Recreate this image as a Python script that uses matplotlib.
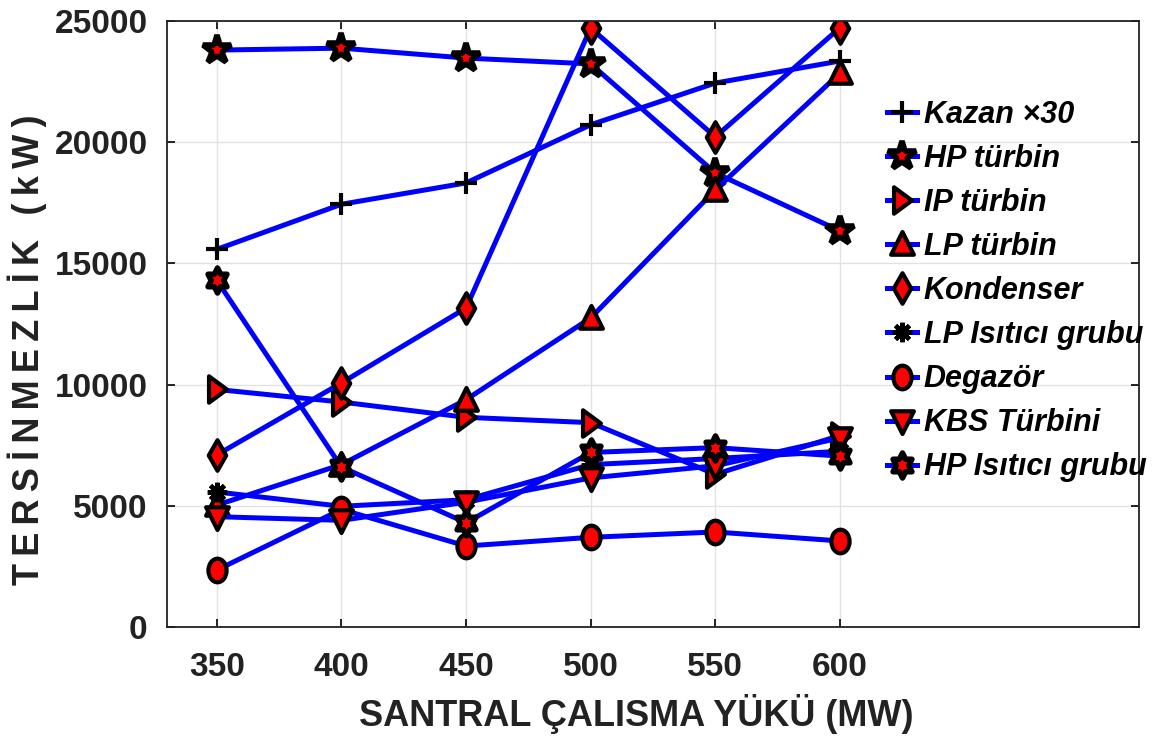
import numpy as np
import matplotlib
matplotlib.use("Agg")
import matplotlib.pyplot as plt
from matplotlib.path import Path
from matplotlib import font_manager

# veri
yuk = [350, 400, 450, 500, 550, 600]
kazan_x30 = [15580, 17440, 18320, 20720, 22440, 23350]
hp_turbin = [23800, 23880, 23470, 23230, 18730, 16340]
ip_turbin = [9800, 9280, 8650, 8430, 6300, 7900]
lp_turbin = [5030, 6700, 9380, 12750, 18030, 22850]
kondenser = [7100, 10070, 13160, 24710, 20220, 24720]
lp_isitici = [5570, 4980, 5250, 6700, 6950, 7250]
degazor = [2350, 4850, 3340, 3700, 3920, 3550]
kbs_turbini = [4550, 4400, 5150, 6150, 6650, 7800]
hp_isitici = [14300, 6600, 4300, 7200, 7400, 7050]

etiketler = ["Kazan \u00d730", "HP t\u00fcrbin", "IP t\u00fcrbin", "LP t\u00fcrbin",
             "Kondenser", "LP Is\u0131t\u0131c\u0131 grubu", "Degaz\u00f6r",
             "KBS T\u00fcrbini", "HP Is\u0131t\u0131c\u0131 grubu"]


def font_var(ad):
    try:
        font_manager.findfont(font_manager.FontProperties(family=ad), fallback_to_default=False)
        return True
    except Exception:
        return False


dar = "Liberation Sans Narrow" if font_var("Liberation Sans Narrow") else "Liberation Sans"
plt.rcParams['font.family'] = ['Liberation Sans', 'DejaVu Sans']


# markerler (biraz dikey uzatilmis)
def yol(noktalar):
    v = list(noktalar) + [noktalar[0]]
    c = [Path.MOVETO] + [Path.LINETO] * (len(noktalar) - 1) + [Path.CLOSEPOLY]
    return Path(v, c)


daire = Path(Path.unit_circle().vertices * [1, 1.3], Path.unit_circle().codes)
elmas = yol([(0, 1.75), (1, 0), (0, -1.75), (-1, 0)])
ucgen_yukari = yol([(0, 1.1), (-1, -0.9), (1, -0.9)])
ucgen_asagi = yol([(0, -1.1), (-1, 0.9), (1, 0.9)])
ucgen_sag = yol([(1, 0), (-0.9, -1.4), (-0.9, 1.4)])
hex_yildiz = Path(Path.unit_regular_star(6, 0.577).vertices * [1, 1.15],
                  Path.unit_regular_star(6, 0.577).codes)

# (veri, marker, boyut, kenar kalinligi)
seriler = [
    (kazan_x30, '+', 16, 3.0),
    (hp_turbin, '*', 21, 4.0),
    (ip_turbin, ucgen_sag, 19, 3.0),
    (lp_turbin, ucgen_yukari, 18, 3.0),
    (kondenser, elmas, 22, 3.0),
    (lp_isitici, (8, 2, 0), 14, 3.2),
    (degazor, daire, 17, 3.0),
    (kbs_turbini, ucgen_asagi, 18, 3.0),
    (hp_isitici, hex_yildiz, 18, 4.0),
]

fig = plt.figure(figsize=(11.57, 7.49), dpi=100)
ax = fig.add_axes([167 / 1157, 1 - 627 / 749, (1139 - 167) / 1157, (627 - 21) / 749])

for (deger, mk, ms, mew), et in zip(seriler, etiketler):
    ax.plot(yuk, deger, color='#0000FF', lw=3.6, marker=mk, markersize=ms,
            markerfacecolor='#FF0000', markeredgecolor='black', markeredgewidth=mew,
            label=et)

ax.set_xlim(330, 720)
ax.set_ylim(0, 25000)
ax.set_xticks(yuk)
ax.set_yticks([0, 5000, 10000, 15000, 20000, 25000])
ax.grid(True, color='#e2e2e2', lw=1)
ax.set_axisbelow(True)
ax.tick_params(direction='in', length=6, width=1.2, top=True, right=True)
ax.tick_params(axis='x', pad=18)
ax.tick_params(axis='y', pad=14)
for s in ax.spines.values():
    s.set_linewidth(1.3)
    s.set_color('#222222')
for t in ax.get_xticklabels() + ax.get_yticklabels():
    t.set_fontfamily([dar, 'DejaVu Sans'])
    t.set_fontweight('bold')
    t.set_fontsize(26 if dar != "Liberation Sans" else 24)
    t.set_color('#222222')

ax.set_xlabel("SANTRAL \u00c7ALISMA Y\u00dcK\u00dc (MW)", fontsize=26, fontweight='bold',
              color='#222222', va='center')
ax.xaxis.set_label_coords(0.4825, -0.1436)
ax.set_ylabel("\u2009".join("TERS\u0130NMEZL\u0130K (kW)"), fontsize=26, fontweight='bold',
              color='#222222', va='center')
ax.yaxis.set_label_coords(-0.144, 0.457)

ax.legend(loc='upper left', bbox_to_anchor=(0.728, 0.890), frameon=False,
          prop={'size': 22, 'weight': 'bold', 'style': 'italic'},
          handlelength=1.0, handletextpad=0.2, labelspacing=0.46, borderaxespad=0)

fig.savefig("out.png", dpi=100)
